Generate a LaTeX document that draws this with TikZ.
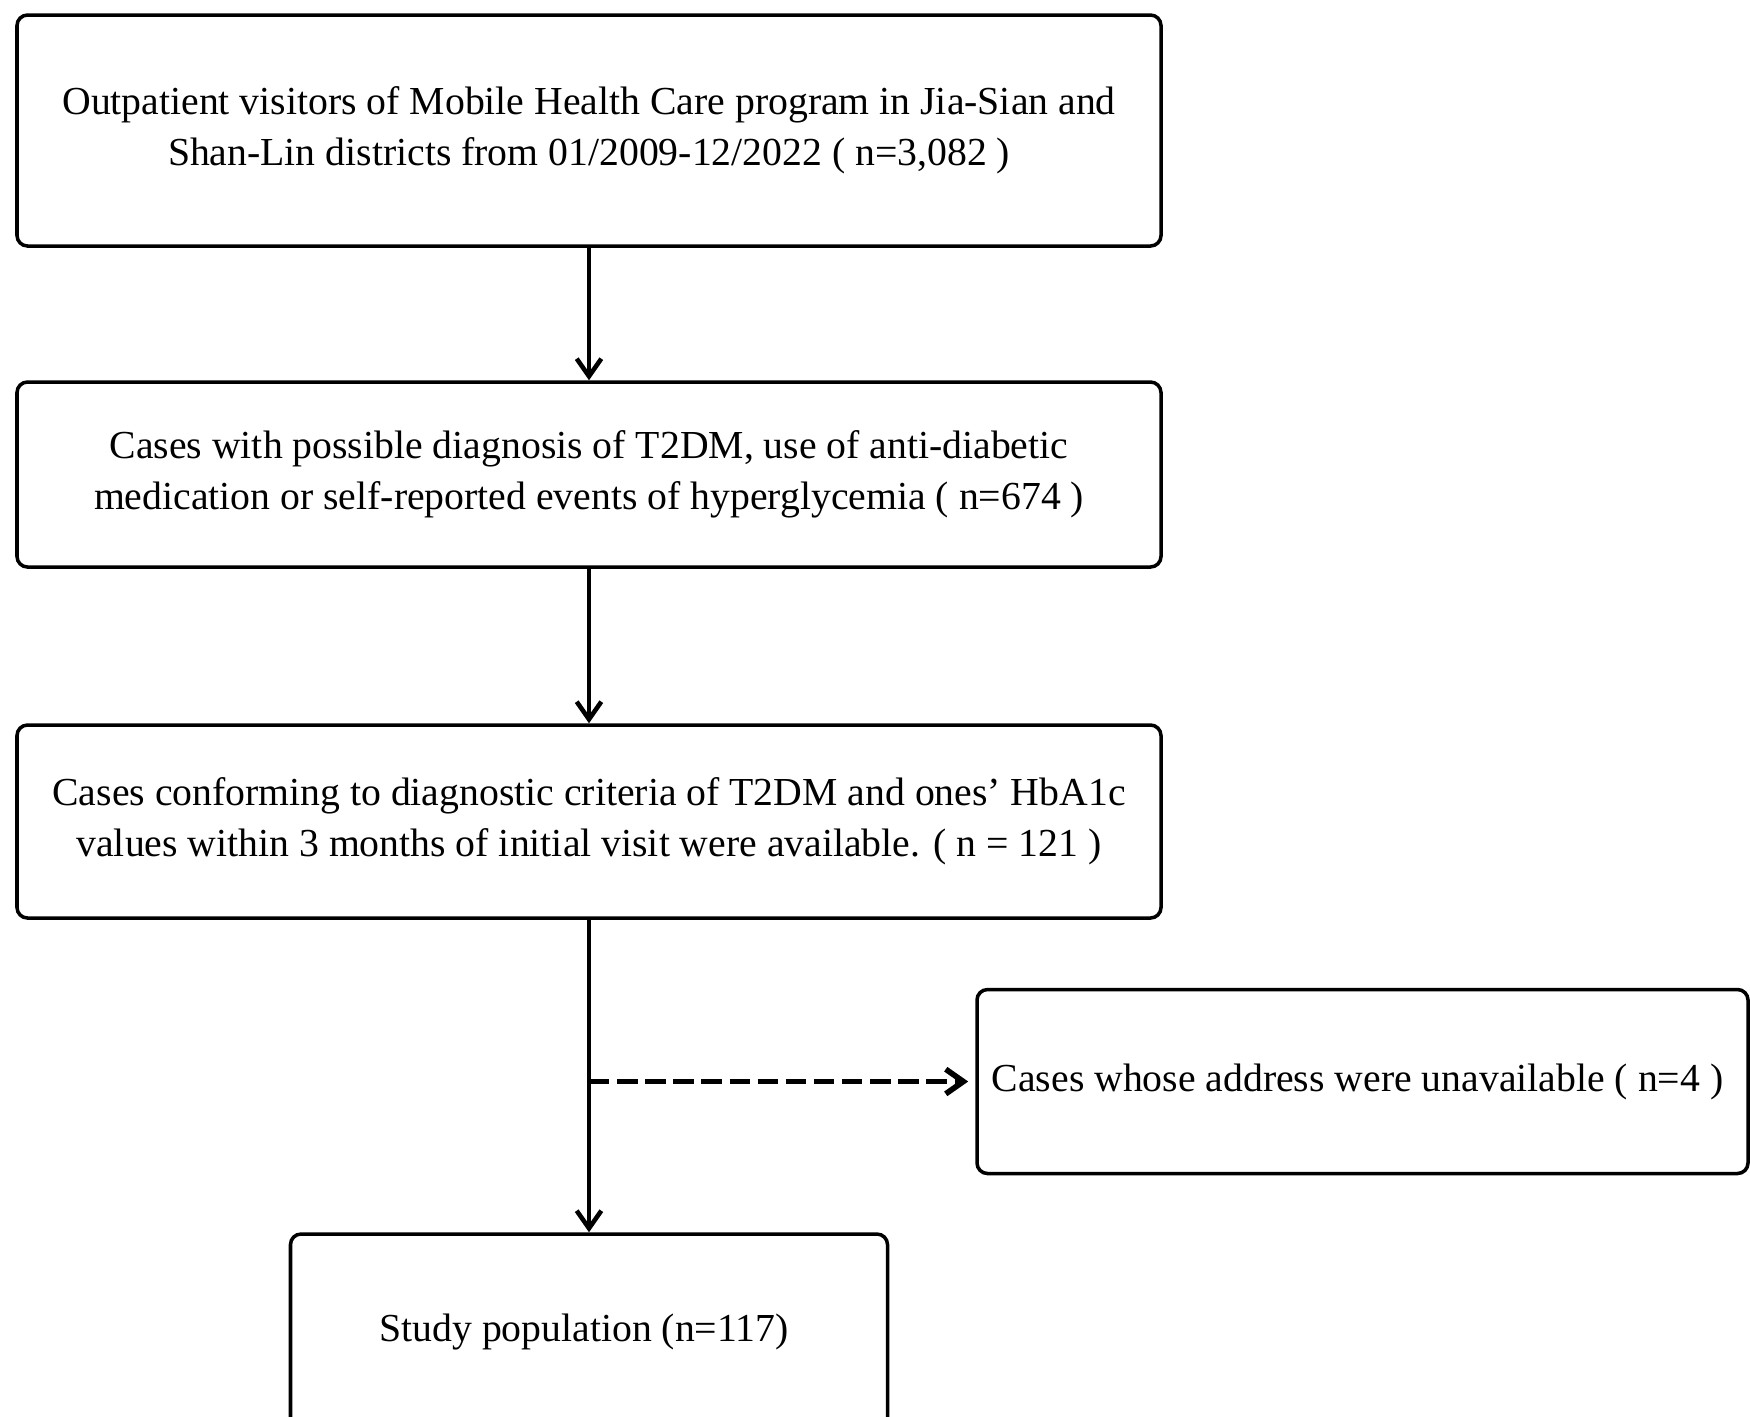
\documentclass[tikz,border=0pt]{standalone}
\usepackage{fontspec}
\setmainfont{Liberation Serif}
\usetikzlibrary{arrows.meta,positioning}

\begin{document}
\begin{tikzpicture}[
  >={Straight Barb[length=5pt,width=7pt]},
  box/.style   = {
    draw, rounded corners=3pt,
    line width=1pt,
    align=center,
    inner sep=4pt,
    font=\fontsize{11.3}{14.5}\selectfont
  },
  flow/.style  = {->, line width=1.3pt},
  skipped/.style = {->, line width=1.6pt, dash pattern=on 5.8pt off 2.2pt, shorten >=2pt}
]

% ---- constants ----
\def\cx{5.89}        % centre line of the main column
\def\mainw{11.44cm}  % width of the three upper boxes

% ---- canvas ----
\useasboundingbox (0,0) rectangle (17.5,-14.16);

% ---- nodes (main column) ----
\node[box, minimum width=\mainw, minimum height=2.31cm] (visit) at (\cx,-1.305) {
  Outpatient visitors of Mobile Health Care program in Jia-Sian and\\
  Shan-Lin districts from 01/2009-12/2022 ( n=3,082 )
};

\node[box, minimum width=\mainw, minimum height=1.85cm] (cand) at (\cx,-4.745) {
  Cases with possible diagnosis of T2DM, use of anti-diabetic\\
  medication or self-reported events of hyperglycemia ( n=674 )
};

\node[box, minimum width=\mainw, minimum height=1.93cm] (crit) at (\cx,-8.215) {
  Cases conforming to diagnostic criteria of T2DM and ones’ HbA1c\\
  values within 3 months of initial visit were available. ( n = 121 )
};

\node[box, minimum width=5.97cm, minimum height=1.96cm] (study) at (\cx,-13.32) {
  Study population (n=117)
};

% ---- excluded cases ----
\node[box, minimum width=7.71cm, minimum height=1.84cm] (noaddr) at (13.625,-10.815) {
  Cases whose address were unavailable ( n=4 )
};

\coordinate (split) at (\cx,-10.815);

% ---- arrows ----
\draw[flow] (visit) -- (cand);
\draw[flow] (cand) -- (crit);
\draw[flow] (crit) -- (study);
\draw[skipped] (split) -- (noaddr);

\end{tikzpicture}
\end{document}
